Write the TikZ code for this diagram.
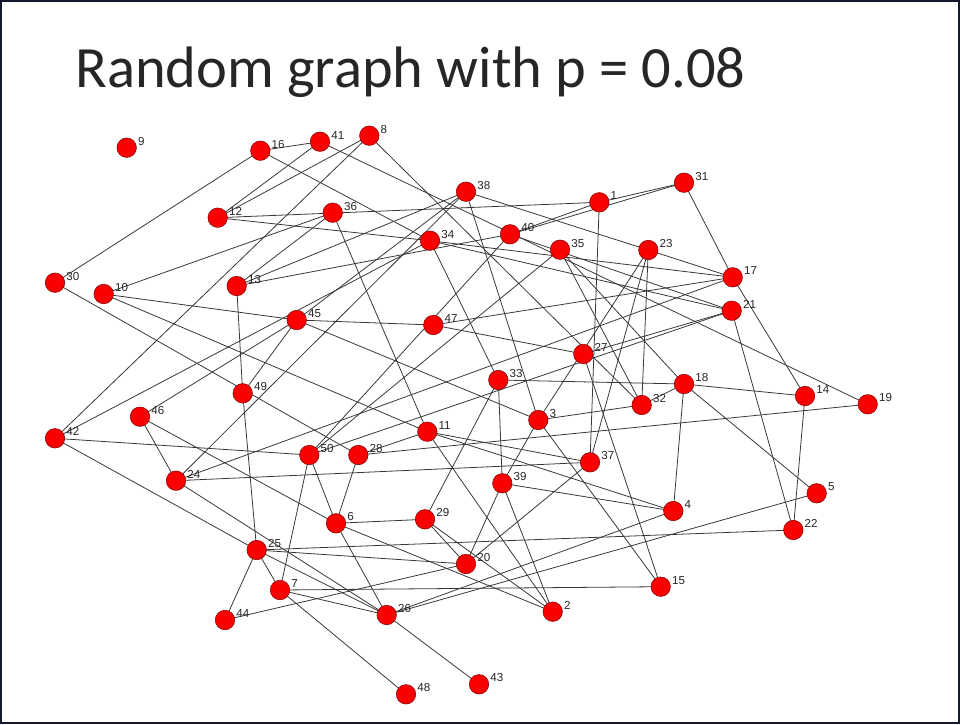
\documentclass[tikz,border=0pt]{standalone}
\usepackage{fontspec}
\setmainfont{Liberation Sans}
\newfontfamily\titlefont{Carlito}
\pgfdeclarelayer{bg}
\pgfsetlayers{bg,main}
\definecolor{vred}{RGB}{250,0,0}
\definecolor{vrim}{RGB}{130,0,0}
\definecolor{ecol}{RGB}{55,55,55}
\definecolor{frame}{RGB}{20,25,45}
\begin{document}
\begin{tikzpicture}[x=0.02cm,y=-0.02cm,
  vtx/.style={circle,draw=vrim,fill=vred,minimum size=0.39cm,inner sep=0pt,line width=0.3pt},
  lbl/.style={anchor=west,font=\fontsize{6.6}{7}\selectfont,text=black!85,inner sep=0pt},
  edge/.style={draw=ecol,line width=0.45pt}]
\useasboundingbox (0,0) rectangle (960,724);
\draw[frame,line width=1.2pt] (1,1) rectangle (959,723);
\node[anchor=base west,inner sep=0pt,text=black!85,font=\titlefont\fontsize{33.3}{36}\selectfont] (title) at (75,87) {Random graph with p = 0.08};
\foreach \n/\x/\y in {9/126.7/147.7,16/260.3/150.7,41/320/141.7,8/369.3/135.7,38/466/191.7,1/599.3/202.3,31/684/182.7,12/217.7/217.7,36/332.7/212.7,34/430/240.7,40/510/234.3,35/560/249.7,23/648.3/250,17/732.7/277.3,30/55/282.7,10/103.7/294,13/236.7/286,21/731.7/310.7,45/296.7/320,47/433.3/325,27/583.3/354,33/498.3/380,18/684/384,14/805/396,19/867.7/404.3,46/140/416.7,49/242.7/393.3,3/538.3/420,32/641.7/405,42/55/438.3,11/427.3/431.7,50/309.3/455,28/358.3/455,37/590/462.3,24/176/480.7,39/502.3/483.3,5/816.7/493.3,4/673.3/511,6/336/523.3,29/425/519.3,22/793.3/530,25/256.7/550,20/466/564,15/660.7/586.7,7/280/590,44/225/620,26/386.7/615,2/552.7/611.7,48/406/694.3,43/479/684.3}{
  \node[vtx] (n\n) at (\x,\y) {};
  \node[lbl] (t\n) at (\x+11,\y-6.5) {\n};
}
\begin{pgfonlayer}{bg}
\foreach \a/\b in {16/41,16/30,16/34,41/12,8/12,8/42,41/19,8/32,12/1,12/34,10/36,13/36,13/38,13/40,38/23,38/3,40/1,40/31,1/31,1/37,31/17,17/14,23/32,23/37,23/3,23/17,21/22,14/22,18/14,18/5,18/4,19/28,42/50,42/25,42/34,30/28,25/22,25/20,25/26,25/7,25/44,49/25,46/6,6/2,24/26,46/24,7/15,7/26,7/48,50/7,44/20,26/5,26/4,26/43,6/26,29/20,29/2,39/20,20/37,36/11,11/2,39/2,3/15,27/15,29/33,6/50,6/28,6/29,40/50,50/21,24/37,24/17,24/38,10/11,10/45,45/47,45/3,13/49,49/45,45/38,33/18,33/39,3/32,3/39,34/33,39/4,11/4,11/37,28/11,34/17,34/21,35/18,35/32,40/21,35/50,21/27,47/17,47/27,46/45,32/18}{
  \draw[edge] (n\a.center) -- (n\b.center);
}
\end{pgfonlayer}
\end{tikzpicture}
\end{document}
